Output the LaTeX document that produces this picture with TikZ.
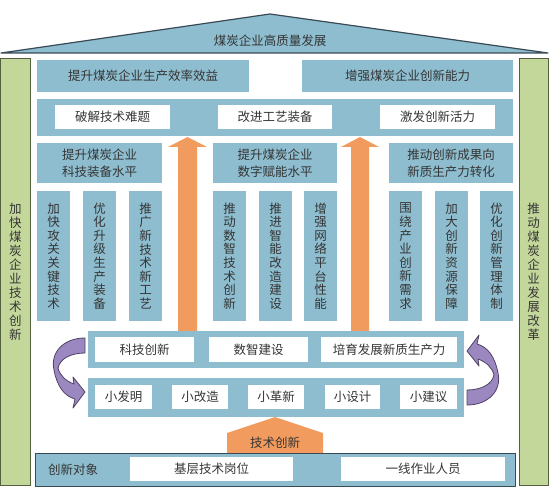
\documentclass[tikz,border=0pt]{standalone}
\usepackage{fontspec}
\newfontfamily\cjk{Noto Sans CJK SC}
\definecolor{bl}{HTML}{8DBDCE}
\definecolor{gr}{HTML}{C4D79B}
\definecolor{grline}{HTML}{55603F}
\definecolor{orng}{HTML}{F19B5E}
\definecolor{pur}{HTML}{9C88C0}
\definecolor{purline}{HTML}{4F4263}
\definecolor{dk}{HTML}{3A4A55}
\definecolor{txt}{HTML}{353535}
\newcommand\rbox[7]{\node[#2,minimum width={(#5)-(#3)},minimum height={(#6)-(#4)}] (#1) at ({((#3)+(#5))/2},{((#4)+(#6))/2}) {#7};}
\newcommand\purarrow{(85,338) .. controls (64,338) and (50,352) .. (54,370) .. controls (57,386) and (64,396) .. (75,399) -- (73,408) -- (85,392) -- (73,377) -- (74,384) .. controls (66,381) and (60,376) .. (58,368) .. controls (60,358) and (72,353) .. (85,353) -- cycle}
\begin{document}
\begin{tikzpicture}[x=1pt,y=-1pt,
  every node/.style={inner sep=0pt,outer sep=0pt,text=txt,font=\cjk\fontsize{12.5}{13.6}\selectfont},
  bluebox/.style={fill=bl},
  whitebox/.style={fill=white},
  vbox/.style={fill=bl,align=center},
  hdbox/.style={fill=bl,align=center,font=\cjk\fontsize{12.5}{17}\selectfont},
  pillar/.style={fill=gr,draw=grline,line width=1pt,align=center,font=\cjk\fontsize{12.5}{14}\selectfont},
  orarrow/.style={fill=orng},
  purarr/.style={fill=pur,draw=purline,line width=0.8pt,line join=round}]
\useasboundingbox (0,0) rectangle (549,500);
\fill[white] (0,0) rectangle (549,500);
% roof
\filldraw[fill=bl,draw=dk,line width=1.2pt,line join=round] (1,53) -- (270,14) -- (548,53) -- cycle;
\node (roof) at (270,41) {煤炭企业高质量发展};
% pillars
\rbox{lp}{pillar}{0.6}{59}{30}{485}{加\\快\\煤\\炭\\企\\业\\技\\术\\创\\新}
\rbox{rp}{pillar}{519}{59}{548.4}{485}{推\\动\\煤\\炭\\企\\业\\发\\展\\改\\革}
% top goals
\rbox{t1}{bluebox}{37}{60}{249}{92}{提升煤炭企业生产效率效益}
\rbox{t2}{bluebox}{302}{60}{513}{92}{增强煤炭企业创新能力}
% second band
\rbox{b2}{bluebox}{37}{99}{513}{136}{}
\rbox{w1}{whitebox}{55}{105}{170}{129}{破解技术难题}
\rbox{w2}{whitebox}{218}{105}{332}{129}{改进工艺装备}
\rbox{w3}{whitebox}{380}{105}{495}{129}{激发创新活力}
% headers
\rbox{h1}{hdbox}{37}{143}{162}{183}{提升煤炭企业\\科技装备水平}
\rbox{h2}{hdbox}{213}{143}{337}{183}{提升煤炭企业\\数字赋能水平}
\rbox{h3}{hdbox}{389}{143}{513}{183}{推动创新成果向\\新质生产力转化}
% vertical boxes
\rbox{v1}{vbox}{37}{191}{70}{321}{加\\快\\攻\\关\\关\\键\\技\\术}
\rbox{v2}{vbox}{83}{191}{116}{321}{优\\化\\升\\级\\生\\产\\装\\备}
\rbox{v3}{vbox}{129}{191}{162}{321}{推\\广\\新\\技\\术\\新\\工\\艺}
\rbox{v4}{vbox}{213}{191}{246}{321}{推\\动\\数\\智\\技\\术\\创\\新}
\rbox{v5}{vbox}{259}{191}{292}{321}{推\\进\\智\\能\\改\\造\\建\\设}
\rbox{v6}{vbox}{304}{191}{337}{321}{增\\强\\网\\络\\平\\台\\性\\能}
\rbox{v7}{vbox}{389}{191}{422}{321}{围\\绕\\产\\业\\创\\新\\需\\求}
\rbox{v8}{vbox}{435}{191}{468}{321}{加\\大\\创\\新\\资\\源\\保\\障}
\rbox{v9}{vbox}{480}{191}{513}{321}{优\\化\\创\\新\\管\\理\\体\\制}
% orange arrows
\fill[orarrow] (178,332) -- (178,147) -- (168,147) -- (187.5,137) -- (207,147) -- (197,147) -- (197,332) -- cycle;
\fill[orarrow] (351,332) -- (351,147) -- (341,147) -- (360,137) -- (379,147) -- (369,147) -- (369,332) -- cycle;
% band 1
\rbox{r1}{bluebox}{88}{331}{464}{368}{}
\rbox{k1}{whitebox}{95}{337}{194}{362}{科技创新}
\rbox{k2}{whitebox}{209}{337}{308}{362}{数智建设}
\rbox{k3}{whitebox}{321}{337}{457}{362}{培育发展新质生产力}
% band 2
\rbox{r2}{bluebox}{88}{378}{464}{417}{}
\rbox{s1}{whitebox}{95}{385}{152}{409}{小发明}
\rbox{s2}{whitebox}{172}{385}{228}{409}{小改造}
\rbox{s3}{whitebox}{248}{385}{304}{409}{小革新}
\rbox{s4}{whitebox}{325}{385}{380}{409}{小设计}
\rbox{s5}{whitebox}{400}{385}{457}{409}{小建议}
% purple cycle arrows
\filldraw[purarr] \purarrow;
\filldraw[purarr,shift={(552,743)},rotate=180] \purarrow;
% pentagon
\fill[orarrow] (227,454) -- (227,433) -- (275,417) -- (323,433) -- (323,454) -- cycle;
\node (tc) at (275,443) {技术创新};
% bottom band
\rbox{bb}{fill=bl,draw=dk,line width=1pt}{35}{453}{515}{486}{}
\node (obj) at (73,470) {创新对象};
\rbox{o1}{whitebox}{130}{457}{293}{481}{基层技术岗位}
\rbox{o2}{whitebox}{341}{457}{505}{481}{一线作业人员}
\end{tikzpicture}
\end{document}
